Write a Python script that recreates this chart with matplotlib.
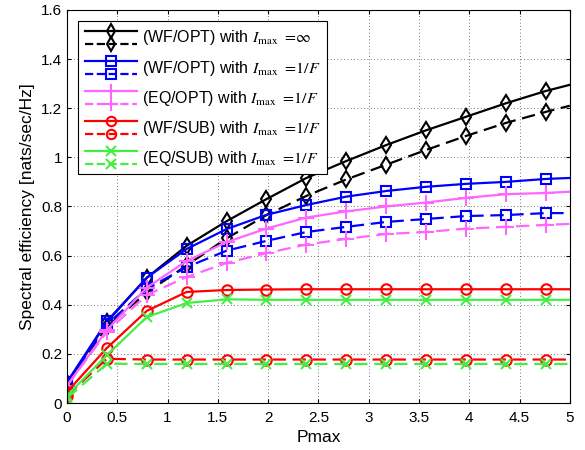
import matplotlib
matplotlib.use("Agg")
import matplotlib.pyplot as plt
from matplotlib.lines import Line2D
from matplotlib.legend_handler import HandlerBase

plt.rcParams['font.family'] = ['Liberation Sans', 'DejaVu Sans']
plt.rcParams['mathtext.fontset'] = 'stix'

# Sample points (markers at all but the last point)
pmax = [0, 0.397, 0.794, 1.19, 1.587, 1.984, 2.381, 2.778, 3.175, 3.571, 3.968, 4.365, 4.762, 5.0]

wf_opt_inf_solid = [0.08, 0.33, 0.51, 0.64, 0.74, 0.83, 0.916, 0.985, 1.05, 1.11, 1.165, 1.22, 1.27, 1.295]
wf_opt_inf_dash = [0.07, 0.31, 0.45, 0.56, 0.67, 0.765, 0.843, 0.91, 0.97, 1.03, 1.087, 1.14, 1.185, 1.21]
wf_opt_f_solid = [0.085, 0.333, 0.51, 0.627, 0.708, 0.766, 0.806, 0.84, 0.863, 0.88, 0.892, 0.90, 0.912, 0.916]
wf_opt_f_dash = [0.08, 0.32, 0.465, 0.553, 0.62, 0.66, 0.696, 0.717, 0.737, 0.749, 0.761, 0.765, 0.773, 0.773]
eq_opt_f_solid = [0.07, 0.297, 0.47, 0.578, 0.655, 0.71, 0.755, 0.78, 0.80, 0.816, 0.835, 0.85, 0.855, 0.86]
eq_opt_f_dash = [0.07, 0.29, 0.44, 0.513, 0.57, 0.61, 0.645, 0.668, 0.688, 0.696, 0.71, 0.717, 0.725, 0.729]
wf_sub_f_solid = [0.045, 0.224, 0.375, 0.452, 0.46, 0.462, 0.463, 0.463, 0.463, 0.463, 0.463, 0.463, 0.463, 0.463]
wf_sub_f_dash = [0.03, 0.18, 0.177, 0.177, 0.177, 0.177, 0.177, 0.177, 0.177, 0.177, 0.177, 0.177, 0.177, 0.177]
eq_sub_f_solid = [0.03, 0.195, 0.35, 0.407, 0.422, 0.42, 0.42, 0.42, 0.42, 0.42, 0.42, 0.42, 0.42, 0.42]
eq_sub_f_dash = [0.02, 0.16, 0.159, 0.159, 0.159, 0.159, 0.159, 0.159, 0.159, 0.159, 0.159, 0.159, 0.159, 0.159]

labels = [r"(WF/OPT) with $I_{\rm max}$ $=\!\infty$",
          r"(WF/OPT) with $I_{\rm max}$ $=\!1/F$",
          r"(EQ/OPT) with $I_{\rm max}$ $=\!1/F$",
          r"(WF/SUB) with $I_{\rm max}$ $=\!1/F$",
          r"(EQ/SUB) with $I_{\rm max}$ $=\!1/F$"]

series = [
    (wf_opt_inf_solid, wf_opt_inf_dash, 'black', 'd'),
    (wf_opt_f_solid, wf_opt_f_dash, '#0000ff', 's'),
    (eq_opt_f_solid, eq_opt_f_dash, '#ff66ff', '+'),
    (wf_sub_f_solid, wf_sub_f_dash, '#ff0000', 'o'),
    (eq_sub_f_solid, eq_sub_f_dash, '#44ee44', 'x'),
]

fig = plt.figure(figsize=(5.85, 4.5), dpi=100)
ax = fig.add_axes([0.1145, 0.1044, 0.8595, 0.8736])

dash = (0, (6, 3))
mev = list(range(len(pmax) - 1))
handles = []
for solid, dashed, color, mk in series:
    ms = 11 if mk == '+' else (8 if mk == 'd' else 7.5)
    l1, = ax.plot(pmax, solid, color=color, lw=1.6, marker=mk, ms=ms,
                  mfc='none', mec=color, mew=1.5, markevery=mev)
    l2, = ax.plot(pmax, dashed, color=color, lw=1.6, ls=dash, marker=mk, ms=ms,
                  mfc='none', mec=color, mew=1.5, markevery=mev)
    handles.append((l1, l2))


class TwoLineHandler(HandlerBase):
    def create_artists(self, legend, orig_handle, xdescent, ydescent, width,
                       height, fontsize, trans):
        artists = []
        yc = height * 0.5 - ydescent
        ys = [yc + 4.7, yc - 4.7]
        for ln, y in zip(orig_handle, ys):
            a = Line2D([-xdescent, -xdescent + width], [y, y],
                       color=ln.get_color(), lw=ln.get_linewidth(),
                       linestyle=ln.get_linestyle())
            m = Line2D([-xdescent + width / 2], [y], marker=ln.get_marker(),
                       ms=ln.get_markersize() * 0.9, mfc='none', mec=ln.get_color(),
                       mew=ln.get_markeredgewidth(), linestyle='none')
            a.set_transform(trans)
            m.set_transform(trans)
            artists.extend([a, m])
        return artists


leg = ax.legend(handles, labels, handler_map={tuple: TwoLineHandler()},
                loc='upper left', fontsize=11.5, handlelength=3.3,
                handleheight=1.5, labelspacing=0.63, handletextpad=0.3,
                borderpad=0.4, borderaxespad=0.7, fancybox=False,
                framealpha=1, edgecolor='black')
leg.get_frame().set_linewidth(0.8)

ax.set_xlim(0, 5)
ax.set_ylim(0, 1.6)
xt = [0, 0.5, 1, 1.5, 2, 2.5, 3, 3.5, 4, 4.5, 5]
yt = [0, 0.2, 0.4, 0.6, 0.8, 1.0, 1.2, 1.4, 1.6]
ax.set_xticks(xt)
ax.set_xticklabels(['0', '0.5', '1', '1.5', '2', '2.5', '3', '3.5', '4', '4.5', '5'])
ax.set_yticks(yt)
ax.set_yticklabels(['0', '0.2', '0.4', '0.6', '0.8', '1', '1.2', '1.4', '1.6'])
ax.tick_params(direction='in', top=True, right=True, labelsize=11, length=3)
ax.tick_params(axis='x', pad=6)
ax.grid(True, linestyle=(0, (1, 3)), color='black', lw=0.6, alpha=0.7)
for s in ax.spines.values():
    s.set_linewidth(0.8)
ax.set_xlabel('Pmax', fontsize=12.5, labelpad=3)
ax.set_ylabel('Spectral efficiency [nats/sec/Hz]', fontsize=12.5, labelpad=4)

fig.savefig('out.png', dpi=100)
